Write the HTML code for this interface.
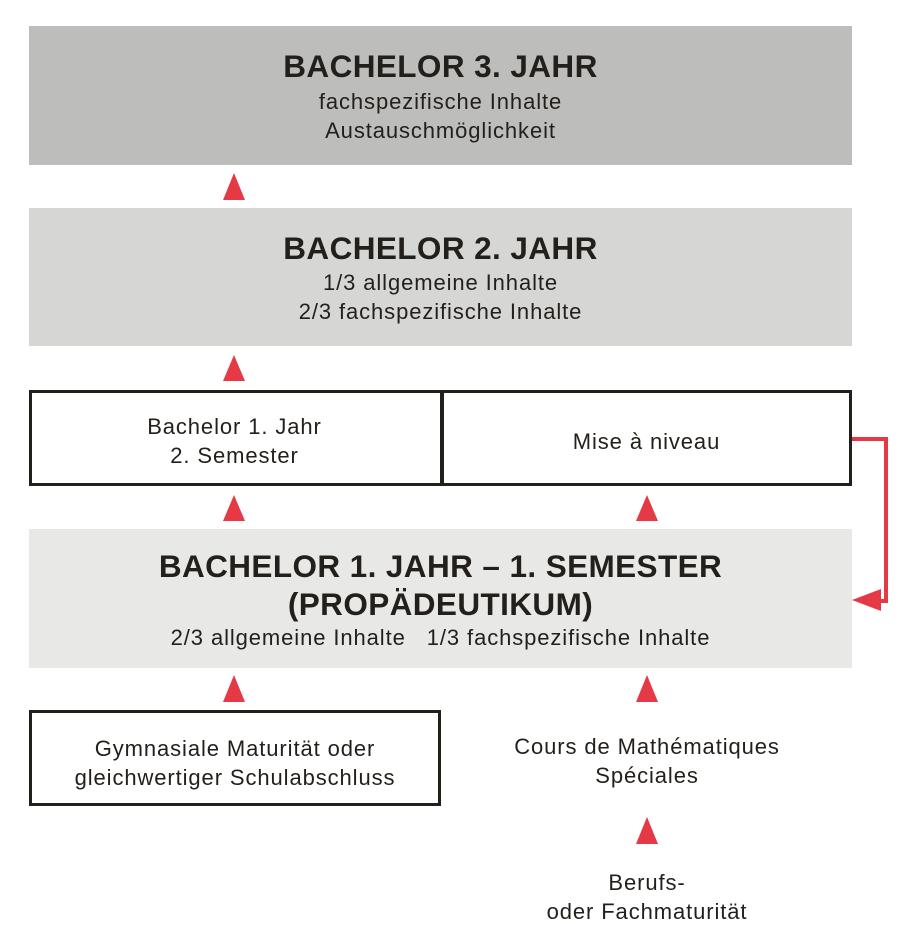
<!DOCTYPE html>
<html><head><meta charset="utf-8"><style>
body{margin:0;width:919px;height:934px;background:#fff;position:relative;font-family:"Liberation Sans",sans-serif;color:#231f1a;overflow:hidden}
.a{position:absolute;box-sizing:border-box}
.t{position:absolute;left:0;right:0;text-align:center;font-size:22px;letter-spacing:0.9px;line-height:29px;white-space:nowrap}
.h{font-weight:bold;font-size:31.5px;letter-spacing:0.4px}
</style></head><body>
<div class="a" style="left:29px;top:26px;width:823px;height:139px;background:#bdbdbc">
<div class="t h" style="top:26px">BACHELOR 3. JAHR</div>
<div class="t" style="top:61px">fachspezifische Inhalte</div>
<div class="t" style="top:90px">Austauschmöglichkeit</div></div>
<div class="a" style="left:29px;top:208px;width:823px;height:138px;background:#d6d6d5">
<div class="t h" style="top:26px">BACHELOR 2. JAHR</div>
<div class="t" style="top:60px">1/3 allgemeine Inhalte</div>
<div class="t" style="top:89px">2/3 fachspezifische Inhalte</div></div>
<div class="a" style="left:29px;top:390px;width:823px;height:96px;border:3.5px solid #231f1a">
<div class="a" style="left:408px;top:0;width:3.5px;height:100%;background:#231f1a"></div>
<div class="t" style="right:412px;top:19px">Bachelor 1. Jahr<br>2. Semester</div>
<div class="t" style="left:412px;top:34px">Mise à niveau</div></div>
<div class="a" style="left:29px;top:529px;width:823px;height:139px;background:#e8e8e7">
<div class="t h" style="top:18px;line-height:38px">BACHELOR 1. JAHR – 1. SEMESTER<br>(PROPÄDEUTIKUM)</div>
<div class="t" style="top:94px">2/3 allgemeine Inhalte &nbsp; 1/3 fachspezifische Inhalte</div></div>
<div class="a" style="left:29px;top:710px;width:412px;height:96px;border:3.5px solid #231f1a">
<div class="t" style="top:21px">Gymnasiale Maturität oder<br>gleichwertiger Schulabschluss</div></div>
<div class="t" style="left:447px;width:400px;right:auto;top:732px">Cours de Mathématiques<br>Spéciales</div>
<div class="t" style="left:447px;width:400px;right:auto;top:868px">Berufs-<br>oder Fachmaturität</div>
<svg class="a" style="left:0;top:0" width="919" height="934">
<g fill="#e63946">
<polygon points="234,173 223,200 245,200"/>
<polygon points="234,355 223,381 245,381"/>
<polygon points="234,495 223,521 245,521"/>
<polygon points="647,495 636,521 658,521"/>
<polygon points="234,675 223,702 245,702"/>
<polygon points="647,675 636,702 658,702"/>
<polygon points="647,817 636,844 658,844"/>
<polygon points="852,600 881,589 881,611"/>
</g>
<polyline points="852,439 886,439 886,601 878,601" fill="none" stroke="#e63946" stroke-width="4"/>
</svg>
</body></html>
